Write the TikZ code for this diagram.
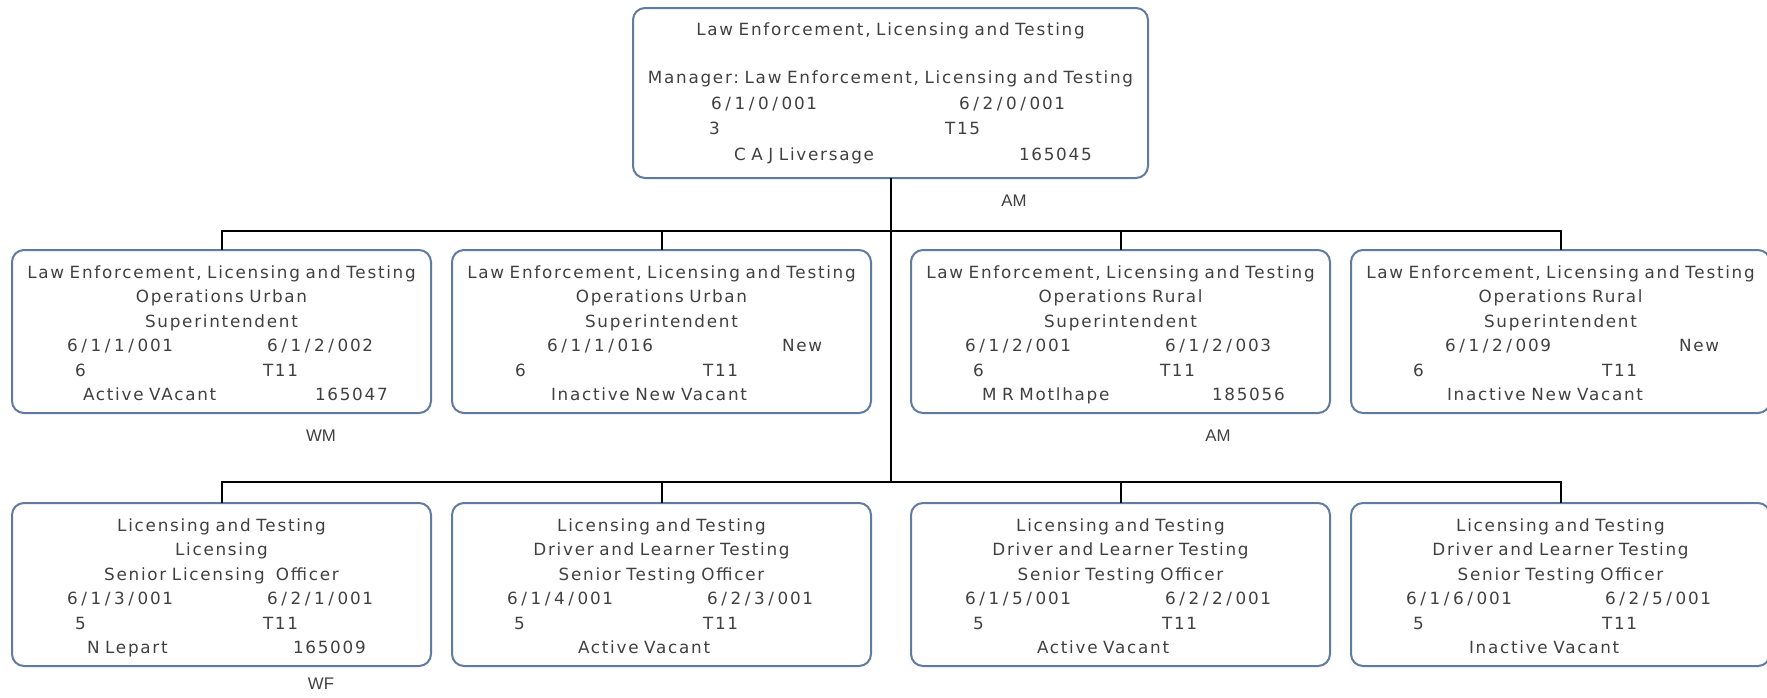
\documentclass[tikz,border=0pt]{standalone}
\usepackage{fontspec}
\setmainfont{DejaVu Sans}[LetterSpace=10.3]
\newfontfamily\codefont{Liberation Sans}

\definecolor{boxline}{RGB}{96,122,160}
\definecolor{textgrey}{RGB}{64,64,64}

% one px of the chart
\newlength\px
\setlength\px{0.5pt}
% two columns in a box line, offsets in px from the box edge
\newcommand\cols[4]{\makebox[\linewidth][l]{\hspace*{#1\px}\rlap{#2}\hspace*{\dimexpr#3\px-#1\px\relax}#4}}
\newcommand\lcol[2]{\makebox[\linewidth][l]{\hspace*{#1\px}#2}}
% post numbers like 6/1/1/001
\newcommand\pidsl{\kern1.8pt/\kern1.8pt}
\def\pidsplit#1/#2/#3/#4\relax{#1\pidsl#2\pidsl#3\pidsl#4}
\newcommand\pid[1]{\pidsplit#1\relax}

\tikzset{
  post/.style={draw=boxline, line width=1pt, rounded corners=6pt, anchor=north west,
    outer sep=0pt, text width=209.5pt, inner xsep=0pt, minimum height=81.5pt,
    text depth=59.6pt, align=center,
    text=textgrey, font=\fontsize{8.4}{12.25}\selectfont\frenchspacing},
  headpost/.style={post, text width=257.5pt, minimum height=85pt, text depth=64.2pt,
    font=\fontsize{8.4}{12.75}\selectfont\frenchspacing},
  code/.style={text=textgrey, font=\codefont\fontsize{8.4}{10}\selectfont},
  link/.style={draw=black, line width=1pt}
}

\begin{document}
\begin{tikzpicture}[x=0.5pt,y=-0.5pt]
    \useasboundingbox (0,0) rectangle (1767,697);

    % manager
    \node[headpost] (head) at (633,8) {Law Enforcement, Licensing and Testing\\[11.5pt]
      Manager: Law Enforcement, Licensing and Testing\\
      \cols{78}{\pid{6/1/0/001}}{326}{\pid{6/2/0/001}}\\
      \cols{76}{3}{312}{T15}\\
      \cols{101}{C A J Liversage}{386}{165045}};
    \node[code] (headcode) at (1014,201) {AM};

    % superintendents
    \node[post] (urbA) at (12,250) {Law Enforcement, Licensing and Testing\\ Operations Urban\\ Superintendent\\
      \cols{55}{\pid{6/1/1/001}}{255}{\pid{6/1/2/002}}\\
      \cols{63}{6}{251}{T11}\\
      \cols{71}{Active VAcant}{303}{165047}};
    \node[post] (urbB) at (452,250) {Law Enforcement, Licensing and Testing\\ Operations Urban\\ Superintendent\\
      \cols{95}{\pid{6/1/1/016}}{330}{New}\\
      \cols{63}{6}{251}{T11}\\
      \lcol{99}{Inactive New Vacant}};
    \node[post] (rurA) at (911,250) {Law Enforcement, Licensing and Testing\\ Operations Rural\\ Superintendent\\
      \cols{54}{\pid{6/1/2/001}}{254}{\pid{6/1/2/003}}\\
      \cols{62}{6}{249}{T11}\\
      \cols{71}{M R Motlhape}{301}{185056}};
    \node[post] (rurB) at (1351,250) {Law Enforcement, Licensing and Testing\\ Operations Rural\\ Superintendent\\
      \cols{94}{\pid{6/1/2/009}}{328}{New}\\
      \cols{62}{6}{251}{T11}\\
      \lcol{96}{Inactive New Vacant}};
    \node[code] (urbAcode) at (321,436) {WM};
    \node[code] (rurAcode) at (1218,436) {AM};

    % officers
    \node[post] (lic) at (12,503) {Licensing and Testing\\ Licensing\\ Senior Licensing\ \ Officer\\
      \cols{55}{\pid{6/1/3/001}}{255}{\pid{6/2/1/001}}\\
      \cols{63}{5}{251}{T11}\\
      \cols{75}{N Lepart}{281}{165009}};
    \node[post] (dltA) at (452,503) {Licensing and Testing\\ Driver and Learner Testing\\ Senior Testing Officer\\
      \cols{55}{\pid{6/1/4/001}}{255}{\pid{6/2/3/001}}\\
      \cols{62}{5}{251}{T11}\\
      \lcol{126}{Active Vacant}};
    \node[post] (dltB) at (911,503) {Licensing and Testing\\ Driver and Learner Testing\\ Senior Testing Officer\\
      \cols{54}{\pid{6/1/5/001}}{254}{\pid{6/2/2/001}}\\
      \cols{62}{5}{251}{T11}\\
      \lcol{126}{Active Vacant}};
    \node[post] (dltC) at (1351,503) {Licensing and Testing\\ Driver and Learner Testing\\ Senior Testing Officer\\
      \cols{55}{\pid{6/1/6/001}}{254}{\pid{6/2/5/001}}\\
      \cols{62}{5}{251}{T11}\\
      \lcol{118}{Inactive Vacant}};
    \node[code] (liccode) at (321,684) {WF};

    % lines
    \coordinate (busA) at (890.5,231);
    \coordinate (busB) at (890.5,482);
    \draw[link] (head.south) -- (busB);
    \draw[link] (urbA.north) |- (busA) -| (rurB.north);
    \foreach \n in {urbB,rurA}
        \draw[link] (\n.north) -- (\n.north |- busA);
    \draw[link] (lic.north) |- (busB) -| (dltC.north);
    \foreach \n in {dltA,dltB}
        \draw[link] (\n.north) -- (\n.north |- busB);
\end{tikzpicture}
\end{document}
